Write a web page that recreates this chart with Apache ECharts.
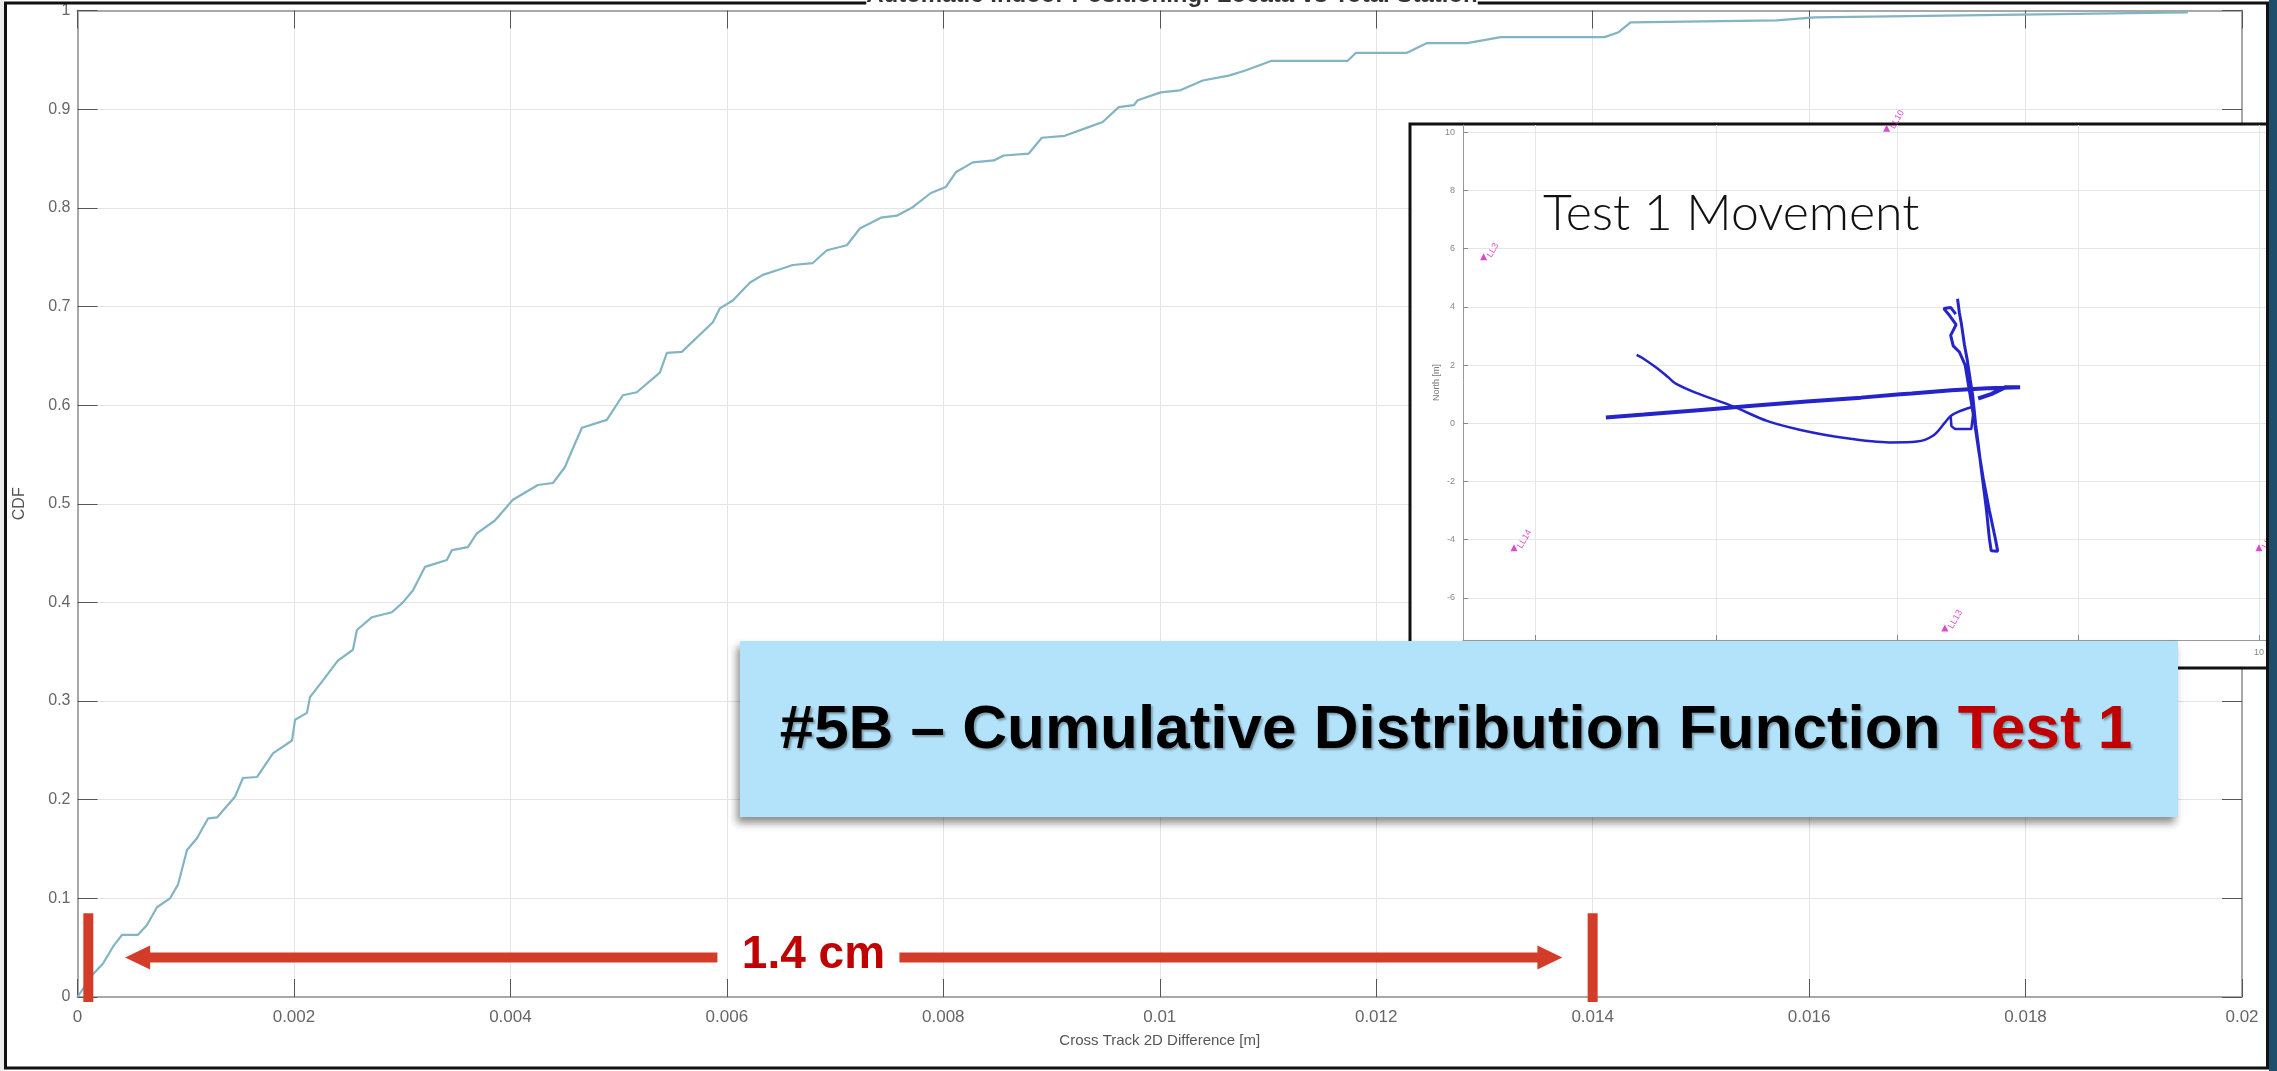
<!DOCTYPE html>
<html>
<head>
<meta charset="utf-8">
<script src="https://cdn.jsdelivr.net/npm/echarts@6/dist/echarts.min.js"></script>
<style>
html, body { margin: 0; padding: 0; background: #fff; }
#main { width: 2277px; height: 1071px; }
</style>
</head>
<body>
<div id="main"></div>
<script>
// CDF of the cross track 2D difference
const cdfX = [0, 0.000134, 0.000236, 0.000328, 0.000411, 0.000559, 0.000642, 0.000734, 0.000855, 0.000929,
  0.001012, 0.001104, 0.001206, 0.001289, 0.001455, 0.001529, 0.001658, 0.001806, 0.001982, 0.00201,
  0.00212, 0.002148, 0.002268, 0.002406, 0.002545, 0.002582, 0.002721, 0.002905, 0.003007, 0.003099,
  0.00321, 0.003413, 0.00346, 0.003607, 0.00369, 0.003857, 0.004023, 0.004254, 0.004393, 0.004503,
  0.004577, 0.004661, 0.004891, 0.005039, 0.005168, 0.005381, 0.005446, 0.005584, 0.005871, 0.005935,
  0.006055, 0.006212, 0.006332, 0.006471, 0.006609, 0.006794, 0.006924, 0.007109, 0.007229, 0.007423,
  0.00757, 0.007709, 0.007885, 0.008023, 0.008115, 0.008273, 0.008467, 0.008559, 0.00879, 0.00891,
  0.009122, 0.009298, 0.009473, 0.009621, 0.00976, 0.009797, 0.010009, 0.010185, 0.010397, 0.010637,
  0.010785, 0.011034, 0.011737, 0.011811, 0.01228, 0.01247, 0.01284, 0.01315, 0.01411, 0.01424,
  0.01435, 0.0157, 0.01605, 0.0195];
const cdfY = [0, 0.022, 0.034, 0.051, 0.063, 0.063, 0.073, 0.091, 0.100, 0.114,
  0.149, 0.161, 0.181, 0.182, 0.203, 0.222, 0.223, 0.247, 0.260, 0.281,
  0.288, 0.304, 0.321, 0.341, 0.352, 0.372, 0.385, 0.390, 0.400, 0.412,
  0.436, 0.443, 0.453, 0.456, 0.470, 0.483, 0.504, 0.519, 0.521, 0.537,
  0.556, 0.577, 0.585, 0.610, 0.613, 0.633, 0.653, 0.654, 0.684, 0.698,
  0.706, 0.724, 0.732, 0.737, 0.742, 0.744, 0.757, 0.762, 0.779, 0.790,
  0.792, 0.800, 0.815, 0.821, 0.836, 0.846, 0.848, 0.853, 0.855, 0.871,
  0.873, 0.880, 0.887, 0.902, 0.904, 0.909, 0.917, 0.919, 0.929, 0.934,
  0.939, 0.949, 0.949, 0.957, 0.957, 0.967, 0.967, 0.973, 0.973, 0.978,
  0.988, 0.990, 0.993, 0.998];

// inset: Test 1 movement, East / North [m]
const trackSweep = [[-7.2, 2.35], [-7.05, 2.25], [-6.67, 1.92], [-6.3, 1.55], [-6.13, 1.37], [-5.59, 1.06],
  [-4.52, 0.57], [-3.6, 0.08], [-2.67, -0.23], [-1.44, -0.51], [-0.21, -0.66], [0.55, -0.63], [1.01, -0.41],
  [1.32, 0.02], [1.48, 0.25], [1.7, 0.4], [2.05, 0.55]];
const trackLoop = [[1.48, 0.25], [1.5, -0.1], [1.6, -0.2], [2.05, -0.2], [2.1, 0.3]];
const trackEast = [[-8.05, 0.2], [-7.0, 0.3], [-5.5, 0.45], [-4.0, 0.6], [-2.5, 0.75], [-1.0, 0.88],
  [0.09, 1.0], [0.4, 1.02], [1.5, 1.13], [2.5, 1.2], [3.4, 1.24], [3.0, 1.24], [2.6, 1.0], [2.24, 0.85]];
const trackNorth = [[1.67, 4.28], [1.72, 3.8], [1.78, 3.39], [1.86, 2.7], [1.94, 2.16], [2.02, 1.5],
  [2.09, 0.94], [2.17, -0.04], [2.25, -0.8], [2.32, -1.52], [2.4, -2.3], [2.47, -2.99], [2.55, -3.97],
  [2.6, -4.38], [2.78, -4.4], [2.72, -4.0], [2.55, -3.0], [2.38, -1.9], [2.25, -0.9], [2.12, 0.2],
  [2.0, 1.1], [1.88, 2.0], [1.72, 2.45], [1.55, 2.66], [1.48, 3.02], [1.63, 3.39], [1.45, 3.7],
  [1.29, 3.94], [1.48, 3.98], [1.62, 3.75]];
const anchorNames = ['LL10', 'LL3', 'LL14', 'LL13', 'LL12'];
const anchorX = [-0.29, -11.43, -10.59, 1.32, 10.0];
const anchorY = [10.14, 5.72, -4.28, -7.04, -4.28];

const insetXTicks = [-10, -5, 0, 5, 10];
const insetYTicks = [-6, -4, -2, 0, 2, 4, 6, 8, 10];

// 1.4 cm span annotation
const spanEnds = [0.0001, 0.014];
const arrowTips = [0.00044, 0.01372];
const arrowLevel = 0.04;
const barRange = [-0.005, 0.085];

var chart = echarts.init(document.getElementById('main'));

const tickColor = '#666';
var option = {
  animation: false,
  backgroundColor: '#fff',
  grid: [
    { left: 77.5, right: 35, top: 10.5, bottom: 74 },
    { left: 1463, right: -5, top: 125, bottom: 431 }
  ],
  xAxis: [
    {
      gridIndex: 0, type: 'value', min: 0, max: 0.02, interval: 0.002,
      name: 'Cross Track 2D Difference [m]', nameLocation: 'middle', nameGap: 36,
      nameTextStyle: { color: '#555', fontSize: 15, fontFamily: 'Liberation Sans' },
      axisLine: { onZero: false, lineStyle: { color: '#a8a8a8', width: 2 } },
      axisTick: { inside: true, length: 18, lineStyle: { color: '#555' } },
      axisLabel: { color: tickColor, fontSize: 17, margin: 12, fontFamily: 'Liberation Sans' },
      splitLine: { show: true, lineStyle: { color: '#e4e4e4', width: 1 } }
    },
    {
      gridIndex: 0, type: 'value', min: 0, max: 0.02, interval: 0.002, position: 'top',
      axisLine: { onZero: false, lineStyle: { color: '#a8a8a8', width: 2 } },
      axisTick: { inside: true, length: 18, lineStyle: { color: '#555' } },
      axisLabel: { show: false }, splitLine: { show: false }
    },
    {
      gridIndex: 1, type: 'value', min: -12, max: 10.5, z: 6,
      axisLine: { onZero: false, lineStyle: { color: '#999', width: 1 } },
      axisTick: { inside: true, length: 5, customValues: insetXTicks, lineStyle: { color: '#888' } },
      axisLabel: { customValues: insetXTicks, color: '#888', fontSize: 9, margin: 8 },
      splitLine: { show: true, lineStyle: { color: '#e6e6e6' } }
    }
  ],
  yAxis: [
    {
      gridIndex: 0, type: 'value', min: 0, max: 1, interval: 0.1,
      name: 'CDF', nameLocation: 'middle', nameGap: 50,
      nameTextStyle: { color: '#555', fontSize: 16, fontFamily: 'Liberation Sans' },
      axisLine: { onZero: false, lineStyle: { color: '#a8a8a8', width: 2 } },
      axisTick: { inside: true, length: 20, lineStyle: { color: '#555' } },
      axisLabel: { color: tickColor, fontSize: 16, margin: 7, fontFamily: 'Liberation Sans' },
      splitLine: { show: true, lineStyle: { color: '#e4e4e4', width: 1 } }
    },
    {
      gridIndex: 0, type: 'value', min: 0, max: 1, interval: 0.1, position: 'right',
      axisLine: { show: true, onZero: false, lineStyle: { color: '#a8a8a8', width: 2 } },
      axisTick: { inside: true, length: 20, lineStyle: { color: '#555' } },
      axisLabel: { show: false }, splitLine: { show: false }
    },
    {
      gridIndex: 1, type: 'value', min: -7.45, max: 10.25, z: 6,
      name: 'North [m]', nameLocation: 'middle', nameGap: 22,
      nameTextStyle: { color: '#777', fontSize: 9 },
      axisLine: { show: true, onZero: false, lineStyle: { color: '#999', width: 1 } },
      axisTick: { inside: true, length: 5, customValues: insetYTicks, lineStyle: { color: '#888' } },
      axisLabel: { customValues: insetYTicks, color: '#888', fontSize: 9, margin: 8 },
      splitLine: { show: true, lineStyle: { color: '#e6e6e6' } }
    }
  ],
  series: [
    {
      type: 'line', xAxisIndex: 0, yAxisIndex: 0, z: 2, symbol: 'none',
      data: cdfX.map((x, i) => [x, cdfY[i]]),
      lineStyle: { color: '#82b4c3', width: 2.2 }
    },
    {
      type: 'line', xAxisIndex: 2, yAxisIndex: 2, z: 7, symbol: 'none', smooth: 0.3,
      data: trackSweep, lineStyle: { color: '#2424c8', width: 2.5 }
    },
    {
      type: 'line', xAxisIndex: 2, yAxisIndex: 2, z: 7, symbol: 'none',
      data: trackLoop, lineStyle: { color: '#2424c8', width: 2.5 }
    },
    {
      type: 'line', xAxisIndex: 2, yAxisIndex: 2, z: 7, symbol: 'none',
      data: trackEast, lineStyle: { color: '#2424c8', width: 4 }
    },
    {
      type: 'line', xAxisIndex: 2, yAxisIndex: 2, z: 7, symbol: 'none',
      data: trackNorth, lineStyle: { color: '#2424c8', width: 3 }
    },
    {
      type: 'scatter', xAxisIndex: 2, yAxisIndex: 2, z: 7, symbol: 'triangle', symbolSize: 7,
      itemStyle: { color: '#d21cc0' },
      data: anchorNames.map((n, i) => ({ value: [anchorX[i], anchorY[i]], name: n })),
      label: { show: true, formatter: '{b}', color: '#d21cc0', fontSize: 9, rotate: 60, position: 'right', distance: 2 }
    }
  ]
};
chart.setOption(option);

// overlays positioned through the main axes
const toPx = (x, y) => chart.convertToPixel({ xAxisIndex: 0, yAxisIndex: 0 }, [x, y]);
const red = '#d43c2a';
const barTop = toPx(0, barRange[1])[1];
const barBot = toPx(0, barRange[0])[1];
const leftBar = toPx(spanEnds[0], 0)[0];
const rightBar = toPx(spanEnds[1], 0)[0];
const ay = toPx(0, arrowLevel)[1];
const tipL = toPx(arrowTips[0], 0)[0];
const tipR = toPx(arrowTips[1], 0)[0];
const labelX = toPx((spanEnds[0] + spanEnds[1]) / 2 - 0.00025, 0)[0];

chart.setOption({
  graphic: [
    // inset frame
    { type: 'rect', z: 5, shape: { x: 1410, y: 124, width: 900, height: 544 },
      style: { fill: '#fff', stroke: '#111', lineWidth: 3 } },
    { type: 'text', z: 8, style: { x: 1543, y: 214, text: 'Test 1 Movement', fill: '#111',
      font: '300 50px Lato', verticalAlign: 'middle' } },
    // span annotation
    { type: 'rect', z: 20, shape: { x: leftBar - 5, y: barTop, width: 10, height: barBot - barTop }, style: { fill: red } },
    { type: 'rect', z: 20, shape: { x: rightBar - 5, y: barTop, width: 10, height: barBot - barTop }, style: { fill: red } },
    { type: 'line', z: 20, shape: { x1: tipL + 20, y1: ay, x2: labelX - 96, y2: ay }, style: { stroke: red, lineWidth: 10 } },
    { type: 'polygon', z: 20, shape: { points: [[tipL, ay], [tipL + 25, ay - 12], [tipL + 25, ay + 12]] }, style: { fill: red } },
    { type: 'line', z: 20, shape: { x1: labelX + 86, y1: ay, x2: tipR - 20, y2: ay }, style: { stroke: red, lineWidth: 10 } },
    { type: 'polygon', z: 20, shape: { points: [[tipR, ay], [tipR - 25, ay - 12], [tipR - 25, ay + 12]] }, style: { fill: red } },
    { type: 'text', z: 20, style: { x: labelX, y: ay - 2, text: '1.4 cm', fill: '#c00000',
      font: 'bold 46px "Liberation Sans"', align: 'center', verticalAlign: 'middle' } },
    // callout
    { type: 'rect', z: 21, shape: { x: 740, y: 641, width: 1438, height: 176 },
      style: { fill: '#b3e3fa', shadowBlur: 8, shadowOffsetX: -3, shadowOffsetY: 6, shadowColor: 'rgba(0,0,0,0.45)' } },
    { type: 'text', z: 22, style: {
      x: 1456, y: 731, align: 'center', verticalAlign: 'middle',
      text: '{a|#5B – Cumulative Distribution Function }{b|Test 1}',
      textShadowColor: 'rgba(0,0,0,0.3)', textShadowBlur: 2, textShadowOffsetX: 2, textShadowOffsetY: 2,
      rich: {
        a: { fill: '#000', fontSize: 62, fontWeight: 'bold', fontFamily: 'Liberation Sans' },
        b: { fill: '#c00000', fontSize: 62, fontWeight: 'bold', fontFamily: 'Liberation Sans' }
      } } },
    // slide frame
    { type: 'rect', z: 30, shape: { x: 0, y: 0, width: 4, height: 1071 }, style: { fill: '#ececec' } },
    { type: 'rect', z: 30, shape: { x: 5.5, y: 3, width: 2262, height: 1065 }, style: { fill: null, stroke: '#111', lineWidth: 3 } },
    { type: 'rect', z: 31, shape: { x: 2269, y: 0, width: 8, height: 1071 }, style: { fill: '#1f4e6d' } },
    { type: 'text', z: 32, style: { x: 1172, y: 7, text: 'Automatic Indoor Positioning: Locata vs Total Station',
      fill: '#333', font: 'bold 24px "Liberation Sans"', align: 'center', verticalAlign: 'bottom', backgroundColor: '#fff' } }
  ]
});
</script>
</body>
</html>
